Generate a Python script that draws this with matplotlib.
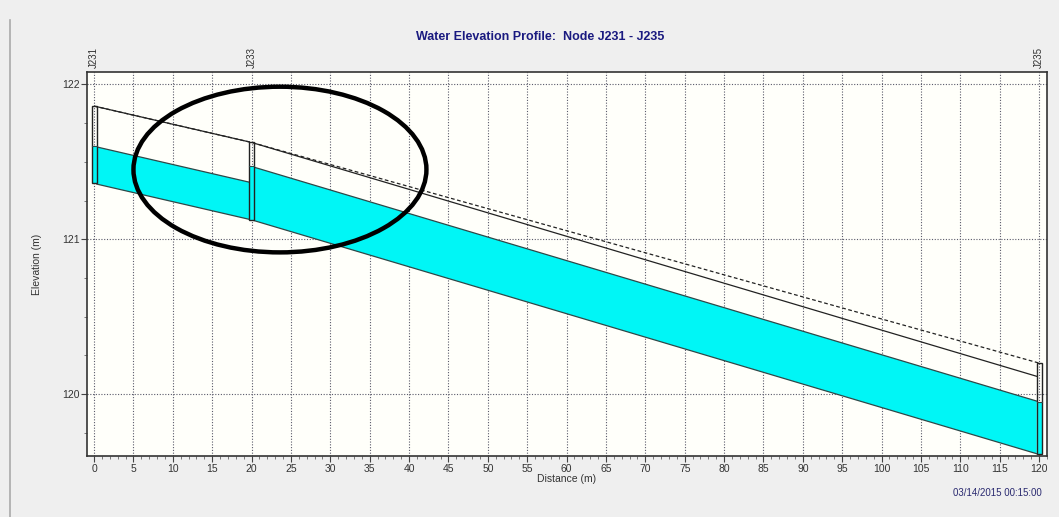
import matplotlib
matplotlib.use("Agg")
import matplotlib.pyplot as plt
from matplotlib.patches import Rectangle, Polygon, Ellipse
from matplotlib.lines import Line2D
from matplotlib.ticker import MultipleLocator

plt.rcParams['font.family'] = ['Liberation Sans', 'DejaVu Sans']

# Junctions along the profile
node_names = ['J231', 'J233', 'J235']
node_dist = [0, 20, 120]
node_top = [121.86, 121.625, 120.20]
node_invert = [121.36, 121.125, 119.61]
node_water = [121.60, 121.47, 119.95]

# Conduits between junctions
pipe_start = [0, 20]
pipe_end = [20, 120]
pipe_invert_up = [121.36, 121.125]
pipe_invert_dn = [121.125, 119.61]
pipe_diam = [0.5, 0.5]
pipe_water_up = [121.60, 121.47]
pipe_water_dn = [121.365, 119.95]

title = 'Water Elevation Profile:  Node J231 - J235'
timestamp = '03/14/2015 00:15:00'

W, H = 1059, 517
fig = plt.figure(figsize=(W / 100, H / 100), dpi=100, facecolor='#EFEFEF')
ax = fig.add_axes([87 / W, 1 - 456 / H, (1047 - 87) / W, (456 - 72) / H])
ax.set_facecolor('#FFFFFA')

cyan = '#00F6F6'
edge = '#2E4848'
box_l, box_r = 0.3, 0.35

# pipes: water body, water surface, invert and crown
for xs, xe, iu, idn, d, wu, wd in zip(pipe_start, pipe_end, pipe_invert_up,
                                        pipe_invert_dn, pipe_diam,
                                        pipe_water_up, pipe_water_dn):
    x0, x1 = xs + box_r, xe - box_l
    f0 = (x0 - xs) / (xe - xs)
    f1 = (x1 - xs) / (xe - xs)
    inv0, inv1 = iu + f0 * (idn - iu), iu + f1 * (idn - iu)
    w0, w1 = wu + f0 * (wd - wu), wu + f1 * (wd - wu)
    ax.add_patch(Polygon([(x0, inv0), (x1, inv1), (x1, w1), (x0, w0)],
                         closed=True, facecolor=cyan, edgecolor='none', zorder=3))
    ax.plot([x0, x1], [w0, w1], color=edge, lw=0.9, zorder=4)
    ax.plot([x0, x1], [inv0, inv1], color=edge, lw=0.9, zorder=4)
    ax.plot([x0, x1], [inv0 + d, inv1 + d], color='#222222', lw=0.9, zorder=4)

# rim / ground line through node tops
ax.plot(node_dist, node_top, color='#222222', lw=0.9, ls=(0, (3, 2)), zorder=4)

# junction boxes
for x, top, inv, wl in zip(node_dist, node_top, node_invert, node_water):
    ax.add_patch(Rectangle((x - box_l, inv), box_l + box_r, wl - inv,
                           facecolor=cyan, edgecolor='none', zorder=5))
    ax.add_patch(Rectangle((x - box_l, inv), box_l + box_r, top - inv,
                           facecolor='none', edgecolor='#222222', lw=1.0, zorder=6))
    ax.plot([x - box_l, x + box_r], [wl, wl], color=edge, lw=0.8, zorder=6)

# highlight ring around the first junction transition
ax.add_patch(Ellipse((23.6, 121.45), 37.2, 1.07, facecolor='none',
                     edgecolor='black', lw=3.2, zorder=8))

ax.set_xlim(-0.9, 121.0)
ax.set_ylim(119.60, 122.08)
ax.xaxis.set_major_locator(MultipleLocator(5))
ax.xaxis.set_minor_locator(MultipleLocator(1))
ax.yaxis.set_major_locator(MultipleLocator(1))
ax.yaxis.set_minor_locator(MultipleLocator(0.25))
ax.tick_params(which='major', length=4, width=0.8, color='#444444',
               labelsize=7.5, labelcolor='#333333', pad=2)
ax.tick_params(axis='y', which='major', pad=1)
ax.tick_params(which='minor', length=2, width=0.6, color='#666666')
ax.grid(True, which='major', color='#5A5A6A', ls=(0, (1, 1.5)), lw=0.8, zorder=1)

for s in ax.spines.values():
    s.set_color('#333333')
    s.set_linewidth(1.2)

ax.set_xlabel('Distance (m)', fontsize=7.5, color='#333333', labelpad=0)
ax.set_ylabel('Elevation (m)', fontsize=7.5, color='#333333', labelpad=15)

# node labels above the plot
for name, x in zip(node_names, node_dist):
    ax.text(x, 1.01, name, transform=ax.get_xaxis_transform(), rotation=90,
            ha='center', va='bottom', fontsize=7, color='#333333')

fig.text(540 / W, 1 - 37 / H, title, ha='center', va='center', fontsize=9,
         fontweight='bold', color='#1A1A80')
fig.text(1042 / W, 1 - 493 / H, timestamp, ha='right', va='center',
         fontsize=7, color='#2A2A70')

fig.add_artist(Line2D([9.5 / W, 9.5 / W], [0, 1 - 20 / H], color='#AAAAAA',
                      lw=1.2, transform=fig.transFigure))

fig.savefig('out.png', dpi=100, facecolor=fig.get_facecolor())
